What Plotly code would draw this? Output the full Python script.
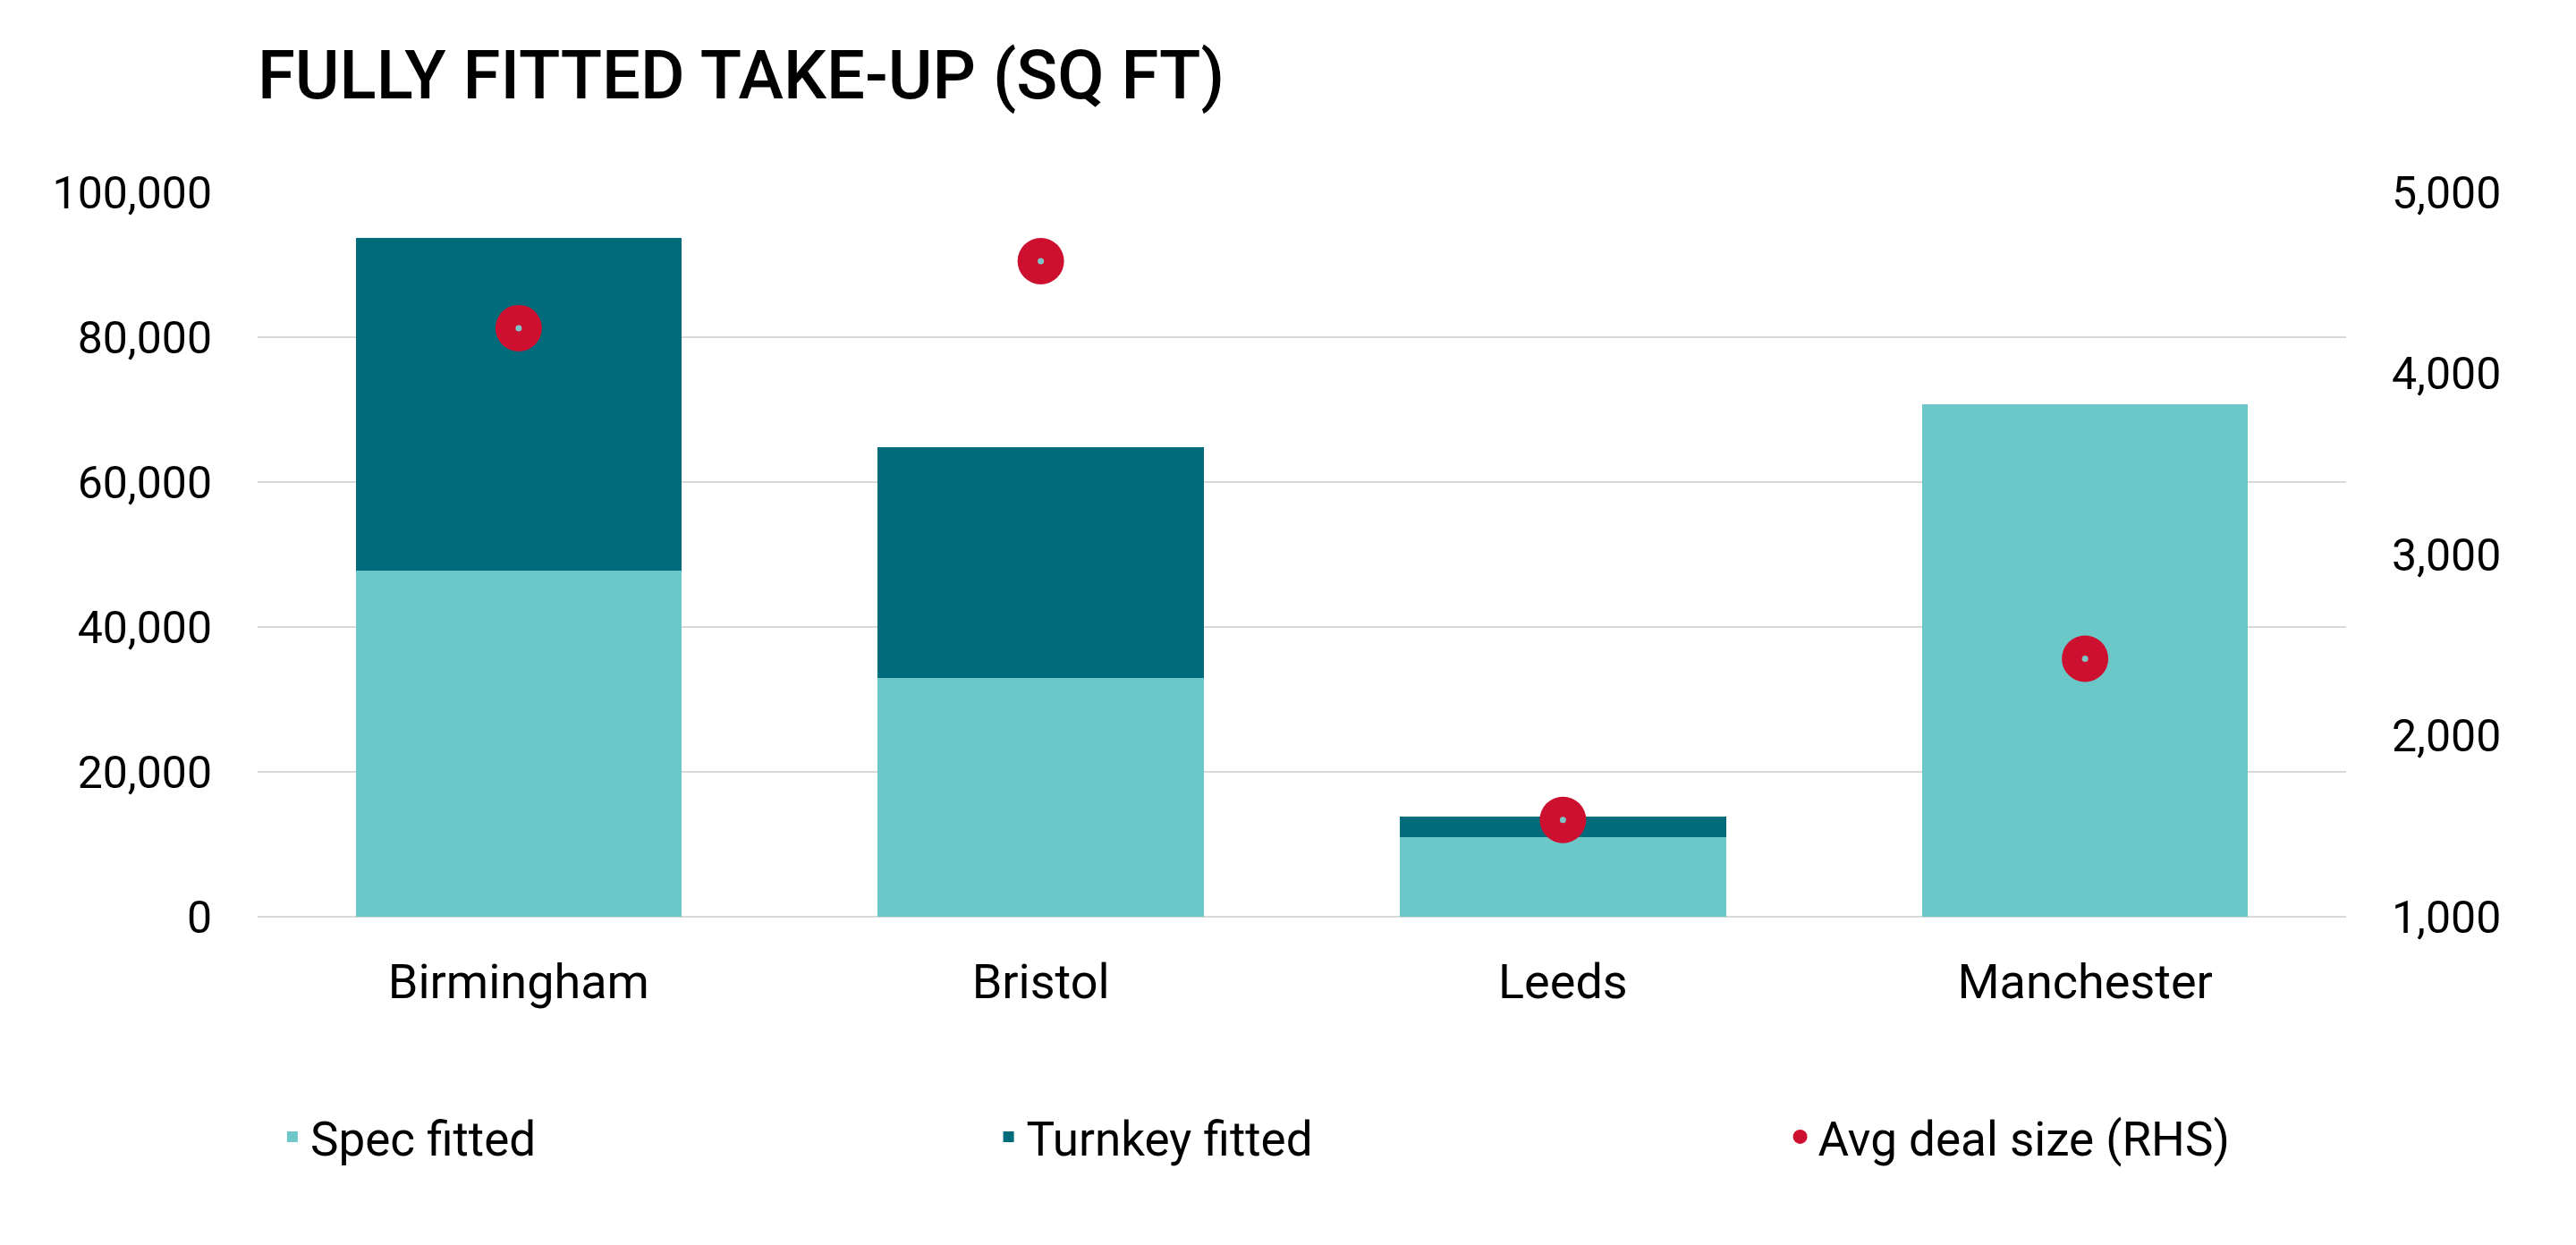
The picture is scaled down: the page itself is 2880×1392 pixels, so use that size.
import plotly.graph_objects as go

categories = ["Birmingham", "Bristol", "Leeds", "Manchester"]
spec_fitted = [47800, 33000, 11000, 70700]
turnkey_fitted = [45900, 31800, 2800, 0]
avg_deal_size = [4250, 4620, 1535, 2425]

left_ticks = [0, 20000, 40000, 60000, 80000, 100000]
right_ticks = [1000, 2000, 3000, 4000, 5000]

FONT = "Roboto"
SPEC_C = "#6CC8C8"
TURN_C = "#006B7A"
RED_C = "#CD1030"

fig = go.Figure()
fig.add_trace(go.Bar(x=categories, y=spec_fitted, name="Spec fitted", legend="legend",
                     marker=dict(color=SPEC_C, line=dict(width=0))))
fig.add_trace(go.Bar(x=categories, y=turnkey_fitted, name="Turnkey fitted", legend="legend2",
                     marker=dict(color=TURN_C, line=dict(width=0))))
fig.add_trace(go.Scatter(x=categories, y=avg_deal_size, name="Avg deal size (RHS)",
                         legend="legend3", mode="markers", yaxis="y2",
                         marker=dict(color=RED_C, size=52, line=dict(width=0))))
fig.add_trace(go.Scatter(x=categories, y=avg_deal_size, showlegend=False,
                         mode="markers", yaxis="y2", hoverinfo="skip",
                         marker=dict(color="#7CC4C6", size=7, line=dict(width=0))))

leg_common = dict(orientation="h", xanchor="left", y=-0.3037, yanchor="middle",
                  font=dict(family=FONT, size=53, color="#000000"),
                  bgcolor="rgba(0,0,0,0)", itemsizing="trace")

fig.update_layout(
    width=2880, height=1392,
    paper_bgcolor="white", plot_bgcolor="white",
    barmode="stack", bargap=0.376,
    margin=dict(l=280, r=265, t=207, b=375),
    font=dict(family=FONT, color="#000000", size=50),
    title=dict(text="FULLY FITTED TAKE-UP (SQ FT)", x=280/2880, xanchor="left",
               y=1 - 75/1392, yanchor="middle",
               font=dict(family=FONT, size=76, color="#000000", weight=500)),
    xaxis=dict(showgrid=False, showline=False, ticks="", ticklabelstandoff=36,
               tickfont=dict(size=54)),
    yaxis=dict(range=[0, 100000], tickvals=left_ticks, tickformat=",",
               showgrid=True, gridcolor="#D9D9D9", gridwidth=2,
               zeroline=True, zerolinecolor="#D9D9D9", zerolinewidth=2,
               showline=False, ticks="", ticklabelstandoff=50,
               tickfont=dict(size=50)),
    yaxis2=dict(range=[1000, 5000], tickvals=right_ticks, tickformat=",",
                overlaying="y", side="right", showgrid=False, zeroline=False,
                showline=False, ticks="", ticklabelstandoff=50,
                tickfont=dict(size=50)),
    legend=dict(x=0.0081, **leg_common),
    legend2=dict(x=0.351, **leg_common),
    legend3=dict(x=0.730, **leg_common),
)

fig.write_html("out.html")
